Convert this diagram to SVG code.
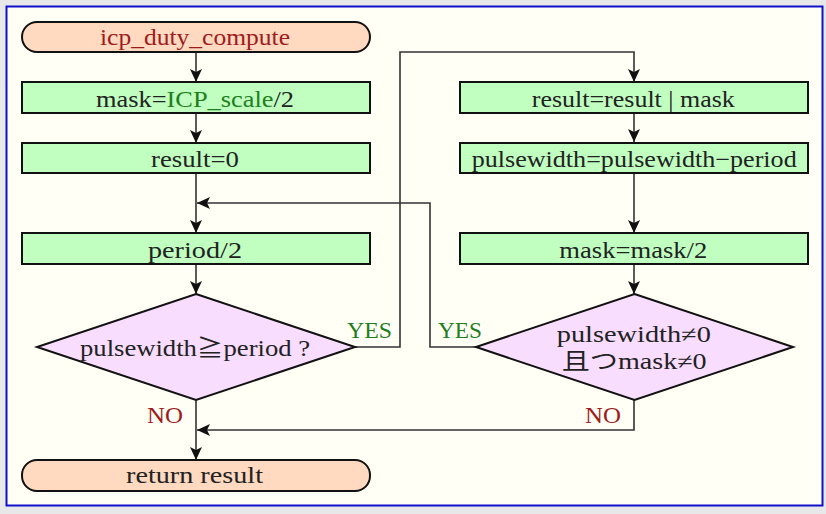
<svg xmlns="http://www.w3.org/2000/svg" width="826" height="514" viewBox="0 0 826 514">
<style>
.t{font-family:"Liberation Serif","Noto Sans CJK JP",serif;font-size:23px;fill:#222;}
.red{fill:#a01c1c;}
.grn{fill:#1f7f1f;}
.term{fill:#ffd9c0;stroke:#111;stroke-width:2;}
.proc{fill:#c0ffc0;stroke:#111;stroke-width:2;}
.dec{fill:#f8ddff;stroke:#111;stroke-width:2;}
.c{fill:none;stroke:#333;stroke-width:1.6;}
</style>
<defs>
<marker id="ah" markerUnits="userSpaceOnUse" markerWidth="14" markerHeight="12" refX="13" refY="6" orient="auto">
<path d="M0,0 L13,6 L0,12 L3,6 z" fill="#111"/>
</marker>
</defs>
<rect x="0" y="0" width="826" height="514" fill="#e8e8e8"/>
<rect x="6.5" y="6.5" width="816" height="499" fill="#fffff5" stroke="#1010cc" stroke-width="2"/>
<g id="connectors">
<path class="c" d="M196,52 V82" marker-end="url(#ah)"/>
<path class="c" d="M196,113 V143" marker-end="url(#ah)"/>
<path class="c" d="M196,173 V233" marker-end="url(#ah)"/>
<path class="c" d="M196,264 V294" marker-end="url(#ah)"/>
<path class="c" d="M354,347 H400 V52 H634 V82" marker-end="url(#ah)"/>
<path class="c" d="M634,113 V142" marker-end="url(#ah)"/>
<path class="c" d="M634,173 V233" marker-end="url(#ah)"/>
<path class="c" d="M634,264 V294" marker-end="url(#ah)"/>
<path class="c" d="M476,347 H430 V203 H197" marker-end="url(#ah)"/>
<path class="c" d="M634,399 V430 H197" marker-end="url(#ah)"/>
<path class="c" d="M196,399 V460" marker-end="url(#ah)"/>
<text class="t grn" x="347" y="338" textLength="45" lengthAdjust="spacingAndGlyphs">YES</text>
<text class="t red" x="147" y="423" textLength="36" lengthAdjust="spacingAndGlyphs">NO</text>
<text class="t grn" x="438" y="338" textLength="44" lengthAdjust="spacingAndGlyphs">YES</text>
<text class="t red" x="585" y="423" textLength="36" lengthAdjust="spacingAndGlyphs">NO</text>
</g>
<g id="start">
<rect class="term" x="22" y="22" width="348" height="30" rx="15" ry="15"/>
<text class="t red" x="195" y="45" text-anchor="middle" textLength="190" lengthAdjust="spacingAndGlyphs">icp_duty_compute</text>
</g>
<g id="mask_init">
<rect class="proc" x="22" y="82" width="348" height="31"/>
<text class="t" x="195" y="107" text-anchor="middle" textLength="198" lengthAdjust="spacingAndGlyphs">mask=<tspan class="grn">ICP_scale</tspan>/2</text>
</g>
<g id="result_init">
<rect class="proc" x="22" y="143" width="348" height="30"/>
<text class="t" x="195" y="167" text-anchor="middle" textLength="88" lengthAdjust="spacingAndGlyphs">result=0</text>
</g>
<g id="period_half">
<rect class="proc" x="22" y="233" width="348" height="31"/>
<text class="t" x="195" y="258" text-anchor="middle" textLength="94" lengthAdjust="spacingAndGlyphs">period/2</text>
</g>
<g id="cond1">
<polygon class="dec" points="196,294 355,347 196,400 37,347"/>
<text class="t" x="195" y="356" text-anchor="middle" textLength="230" lengthAdjust="spacingAndGlyphs">pulsewidth≧period ?</text>
</g>
<g id="end">
<rect class="term" x="22" y="460" width="348" height="31" rx="15" ry="15"/>
<text class="t" x="194.5" y="483" text-anchor="middle" textLength="137" lengthAdjust="spacingAndGlyphs">return result</text>
</g>
<g id="result_or">
<rect class="proc" x="460" y="82" width="348" height="31"/>
<text class="t" x="633.3" y="107" text-anchor="middle" textLength="203" lengthAdjust="spacingAndGlyphs">result=result | mask</text>
</g>
<g id="pulse_sub">
<rect class="proc" x="460" y="143" width="348" height="30"/>
<text class="t" x="634.2" y="167" text-anchor="middle" textLength="325" lengthAdjust="spacingAndGlyphs">pulsewidth=pulsewidth−period</text>
</g>
<g id="mask_half">
<rect class="proc" x="460" y="233" width="348" height="31"/>
<text class="t" x="633.3" y="258" text-anchor="middle" textLength="148" lengthAdjust="spacingAndGlyphs">mask=mask/2</text>
</g>
<g id="cond2">
<polygon class="dec" points="634.5,294 793,347 634.5,400 476,347"/>
<text class="t" x="633.8" y="342" text-anchor="middle" textLength="154" lengthAdjust="spacingAndGlyphs">pulsewidth≠0</text>
<text class="t" x="634.2" y="369" text-anchor="middle" textLength="145" lengthAdjust="spacingAndGlyphs">且つmask≠0</text>
</g>
</svg>
